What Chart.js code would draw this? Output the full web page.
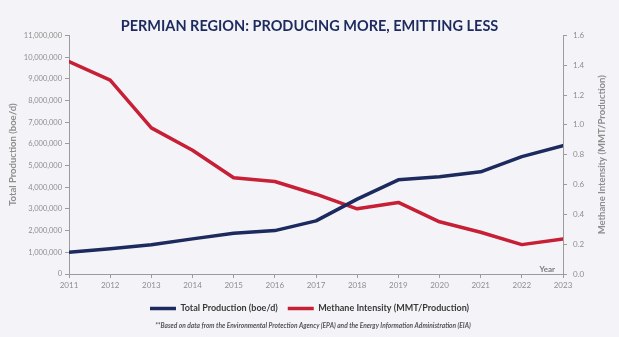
<!DOCTYPE html>
<html>
<head>
<meta charset="utf-8">
<title>Permian Region</title>
<style>
  html, body { margin: 0; padding: 0; background: #f4f4f8; }
  #wrap { width: 619px; height: 337px; }
</style>
</head>
<body>
<div id="wrap"><canvas id="permianChart" width="619" height="337"></canvas></div>
<script src="https://cdn.jsdelivr.net/npm/chart.js@4/dist/chart.umd.min.js"></script>
<script>
// yearly figures for the Permian basin
const years = [2011, 2012, 2013, 2014, 2015, 2016, 2017, 2018, 2019, 2020, 2021, 2022, 2023];
const totalProduction = [1000000, 1160000, 1350000, 1620000, 1880000, 2000000, 2450000, 3450000, 4340000, 4480000, 4710000, 5410000, 5920000];
const methaneIntensity = [1.425, 1.30, 0.98, 0.83, 0.645, 0.62, 0.535, 0.437, 0.48, 0.35, 0.28, 0.197, 0.235];

const productionTicks = { min: 0, max: 11000000, step: 1000000 };
const intensityTicks = { min: 0, max: 1.6, step: 0.2 };

const NAVY = "#1c2a5e";
const RED = "#c61f36";
const GREY = "#8e8e8e";
const AXIS = "#9c9c9c";
const FONT = "Lato, 'Open Sans', sans-serif";

function toPoints(xs, ys) {
  return xs.map((x, i) => ({ x: x, y: ys[i] }));
}

// bits of text chart.js doesn't place the way we want
const extraText = {
  id: "extraText",
  afterDraw(chart) {
    const { ctx, chartArea } = chart;
    ctx.save();

    ctx.font = "bold 8px " + FONT;
    ctx.fillStyle = "#7a7a7a";
    ctx.textAlign = "right";
    ctx.textBaseline = "middle";
    ctx.fillText("Year", chartArea.right - 8, chartArea.bottom - 5);

    // right axis title reads bottom to top
    ctx.save();
    ctx.translate(chartArea.right + 39, (chartArea.top + chartArea.bottom) / 2);
    ctx.rotate(-Math.PI / 2);
    ctx.textAlign = "center";
    ctx.font = "bold 9.5px " + FONT;
    ctx.fillStyle = GREY;
    ctx.fillText("Methane Intensity (MMT/Production)", 0, 0);
    ctx.restore();

    ctx.font = "italic bold 6.6px " + FONT;
    ctx.fillStyle = "#555";
    ctx.textAlign = "center";
    ctx.fillText(
      "**Based on data from the Environmental Protection Agency (EPA) and the Energy Information Administration (EIA)",
      313, 326
    );
    ctx.restore();
  },
};

const ctx = document.getElementById("permianChart");

new Chart(ctx, {
  type: "line",
  data: {
    datasets: [
      {
        label: "Total Production (boe/d)",
        data: toPoints(years, totalProduction),
        borderColor: NAVY,
        backgroundColor: NAVY,
        borderWidth: 3.5,
        borderCapStyle: "round",
        borderJoinStyle: "round",
        pointRadius: 0,
        tension: 0,
        yAxisID: "y",
      },
      {
        label: "Methane Intensity (MMT/Production)",
        data: toPoints(years, methaneIntensity),
        borderColor: RED,
        backgroundColor: RED,
        borderWidth: 3.5,
        borderCapStyle: "round",
        borderJoinStyle: "round",
        pointRadius: 0,
        tension: 0,
        yAxisID: "y1",
      },
    ],
  },
  options: {
    responsive: false,
    animation: false,
    layout: { padding: { left: 0, right: 0, top: 0, bottom: 14 } },
    plugins: {
      title: {
        display: true,
        text: "PERMIAN REGION: PRODUCING MORE, EMITTING LESS",
        color: NAVY,
        font: { family: FONT, size: 14.5, weight: "bold" },
        padding: { top: 18, bottom: 0 },
      },
      legend: {
        position: "bottom",
        labels: {
          usePointStyle: true,
          pointStyle: "line",
          pointStyleWidth: 26,
          color: "#3a3a3a",
          font: { family: FONT, size: 9, weight: "bold" },
          padding: 10,
        },
      },
      tooltip: { enabled: false },
    },
    scales: {
      x: {
        type: "linear",
        min: years[0],
        max: years[years.length - 1],
        ticks: {
          stepSize: 1,
          autoSkip: false,
          maxRotation: 0,
          padding: 3,
          color: GREY,
          font: { family: FONT, size: 8 },
          callback: (v) => String(v),
        },
        grid: { drawOnChartArea: false, tickLength: 4, color: AXIS },
        border: { color: AXIS },
        afterFit: (scale) => {
          scale.height = 20;
        },
      },
      y: {
        position: "left",
        min: productionTicks.min,
        max: productionTicks.max,
        ticks: {
          stepSize: productionTicks.step,
          padding: 3,
          color: GREY,
          font: { family: FONT, size: 7.5 },
          callback: (v) => v.toLocaleString("en-US"),
        },
        grid: { drawOnChartArea: false, tickLength: 4, color: AXIS },
        border: { color: AXIS },
        title: {
          display: true,
          text: "Total Production (boe/d)",
          color: GREY,
          font: { family: FONT, size: 9.5, weight: "bold" },
          padding: { top: 7, bottom: 0 },
        },
        afterFit: (scale) => {
          scale.width = 69;
        },
      },
      y1: {
        position: "right",
        min: intensityTicks.min,
        max: intensityTicks.max,
        ticks: {
          stepSize: intensityTicks.step,
          padding: 6,
          color: GREY,
          font: { family: FONT, size: 8 },
          callback: (v) => v.toFixed(1),
        },
        grid: { drawOnChartArea: false, tickLength: 4, color: AXIS },
        border: { color: AXIS },
        afterFit: (scale) => {
          scale.width = 56;
        },
      },
    },
  },
  plugins: [extraText],
});
</script>
</body>
</html>
